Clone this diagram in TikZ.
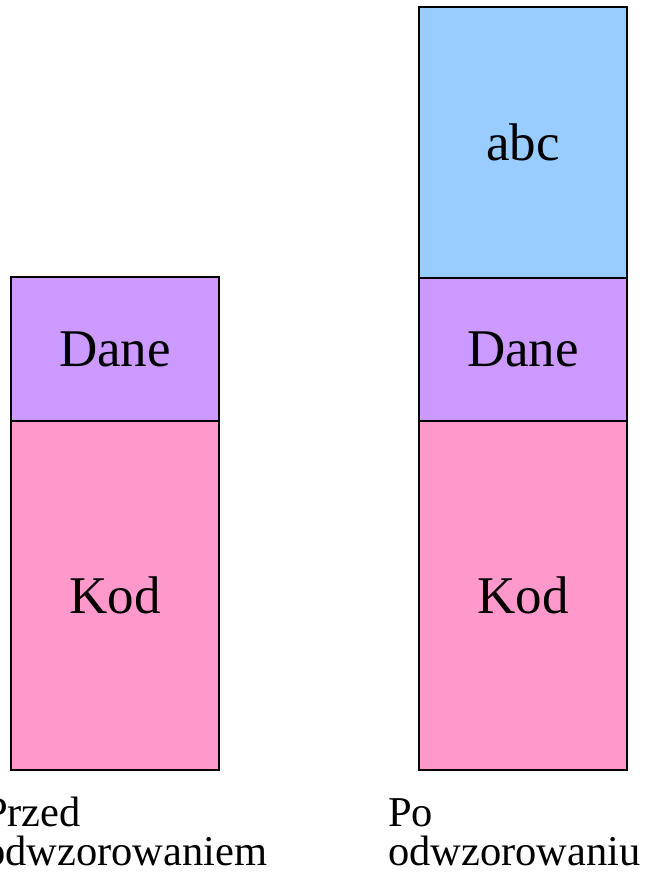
\documentclass[tikz,border=0pt]{standalone}
\usepackage{fontspec}
\setmainfont{Liberation Serif}
\definecolor{segdata}{HTML}{CC99FF}
\definecolor{segcode}{HTML}{FF99CC}
\definecolor{segmap}{HTML}{99CCFF}
\begin{document}
\begin{tikzpicture}[x=1pt,y=-1pt,
  segment/.style={draw=black, line width=1.5pt, rectangle, inner sep=0pt,
    minimum width=208pt, font=\fontsize{53}{60}\selectfont},
  caption/.style={anchor=north west, inner sep=0pt, align=left,
    font=\fontsize{42.5}{39}\selectfont}]
  \useasboundingbox (0,0) rectangle (645,878);
  % memory layout before mapping
  \node[segment, fill=segdata, minimum height=144pt] (dane1) at (115,349) {Dane};
  \node[segment, fill=segcode, minimum height=349pt] (kod1) at (115,595.5) {Kod};
  % memory layout after mapping
  \node[segment, fill=segmap, minimum height=271pt] (abc2) at (523,142.5) {abc};
  \node[segment, fill=segdata, minimum height=143pt] (dane2) at (523,349.5) {Dane};
  \node[segment, fill=segcode, minimum height=349pt] (kod2) at (523,595.5) {Kod};
  % captions
  \node[caption] (lab1) at (-16,797) {Przed\\odwzorowaniem};
  \node[caption] (lab2) at (388,798) {Po\\odwzorowaniu};
\end{tikzpicture}
\end{document}
